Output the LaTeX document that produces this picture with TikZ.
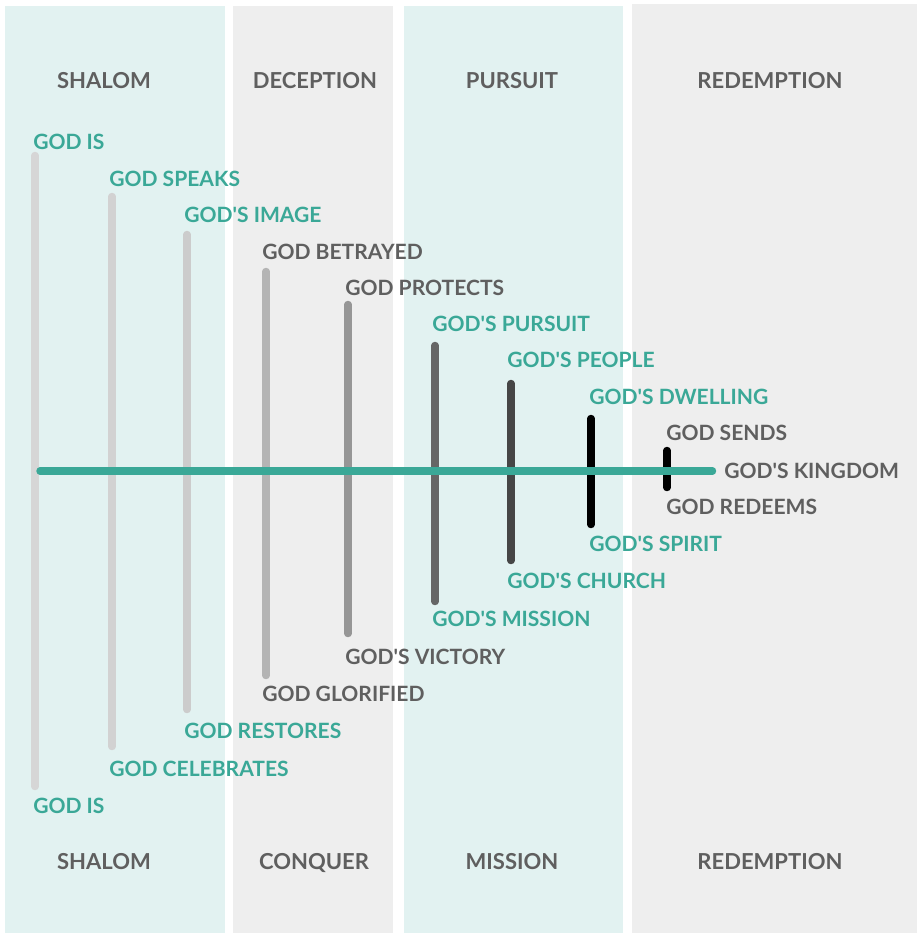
\documentclass[tikz,border=0pt]{standalone}
\usepackage{fontspec}
\setmainfont{Lato}
\usepackage{xcolor}

\definecolor{bgteal}{HTML}{E2F2F1}
\definecolor{bggray}{HTML}{EEEEEE}
\definecolor{storyteal}{HTML}{3AA897}
\definecolor{storygray}{HTML}{5F5F5F}
\newcommand{\apos}{\textquotesingle}

\tikzset{
  head/.style={inner sep=0pt, text height=11.5pt, text depth=0pt, text=storygray,
    font=\fontsize{16.5}{18}\selectfont\bfseries},
  lbl/.style={inner sep=0pt, text height=11pt, text depth=0pt, anchor=west,
    font=\fontsize{15.8}{18}\selectfont\bfseries},
  tl/.style={lbl, text=storyteal},
  gl/.style={lbl, text=storygray},
  bar/.style={line width=5.6pt, line cap=round},
}

\begin{document}
\begin{tikzpicture}[x=0.75pt,y=-0.75pt]
        \useasboundingbox (0,0) rectangle (917,933);
        % ages
        \fill[bgteal] (5,6) rectangle (225,933);
        \fill[bggray] (233,6) rectangle (393,933);
        \fill[bgteal] (404,6) rectangle (623,933);
        \fill[bggray] (632,4) rectangle (917,933);
        \node[head] (shalomtop) at (104,81) {SHALOM};
        \node[head] (deception) at (315,81) {DECEPTION};
        \node[head] (pursuit) at (512,81) {PURSUIT};
        \node[head] (redemptiontop) at (770,81) {REDEMPTION};
        \node[head] (shalombot) at (104,862) {SHALOM};
        \node[head] (conquer) at (314,862) {CONQUER};
        \node[head] (mission) at (512,862) {MISSION};
        \node[head] (redemptionbot) at (770,862) {REDEMPTION};

        % pairs, outermost first
        \coordinate (u1) at (35,155.5);   \coordinate (d1) at (35,786.5);
        \coordinate (u2) at (112,196.5);  \coordinate (d2) at (112,746.5);
        \coordinate (u3) at (187,234.5);  \coordinate (d3) at (187,709.5);
        \coordinate (u4) at (266,271.5);  \coordinate (d4) at (266,675.5);
        \coordinate (u5) at (348,304.5);  \coordinate (d5) at (348,633.5);
        \coordinate (u6) at (435,345.5);  \coordinate (d6) at (435,601.5);
        \coordinate (u7) at (511,383.5);  \coordinate (d7) at (511,560.5);
        \coordinate (u8) at (591,418.5);  \coordinate (d8) at (591,524.5);
        \coordinate (u9) at (667,450.5);  \coordinate (d9) at (667,487.5);
        \draw[bar, color={rgb,255:red,214;green,214;blue,214}] (u1) -- (d1);
        \draw[bar, color={rgb,255:red,210;green,210;blue,210}] (u2) -- (d2);
        \draw[bar, color={rgb,255:red,204;green,204;blue,204}] (u3) -- (d3);
        \draw[bar, color={rgb,255:red,180;green,180;blue,180}] (u4) -- (d4);
        \draw[bar, color={rgb,255:red,150;green,150;blue,150}] (u5) -- (d5);
        \draw[bar, color={rgb,255:red,102;green,102;blue,102}] (u6) -- (d6);
        \draw[bar, color={rgb,255:red,70;green,70;blue,70}] (u7) -- (d7);
        \draw[bar, black] (u8) -- (d8);
        \draw[bar, black] (u9) -- (d9);

        % the line of the story
        \node[gl] (kingdom) at (724,471) {GOD\apos S KINGDOM};
        \coordinate (origin) at (40,471);
        \coordinate (goal) at (712.5,471);
        \draw[bar, storyteal] (origin) -- (goal);

        \node[tl] (t1) at (33,142) {GOD IS};
        \node[tl] (t2) at (109,179) {GOD SPEAKS};
        \node[tl] (t3) at (184,215) {GOD\apos S IMAGE};
        \node[gl] (t4) at (262,252) {GOD BETRAYED};
        \node[gl] (t5) at (345,288) {GOD PROTECTS};
        \node[tl] (t6) at (432,324) {GOD\apos S PURSUIT};
        \node[tl] (t7) at (507,360) {GOD\apos S PEOPLE};
        \node[tl] (t8) at (589,397) {GOD\apos S DWELLING};
        \node[gl] (t9) at (666,433) {GOD SENDS};

        \node[tl] (b1) at (33,806) {GOD IS};
        \node[tl] (b2) at (109,769) {GOD CELEBRATES};
        \node[tl] (b3) at (184,731) {GOD RESTORES};
        \node[gl] (b4) at (262,694) {GOD GLORIFIED};
        \node[gl] (b5) at (345,657) {GOD\apos S VICTORY};
        \node[tl] (b6) at (432,619) {GOD\apos S MISSION};
        \node[tl] (b7) at (507,581) {GOD\apos S CHURCH};
        \node[tl] (b8) at (589,544) {GOD\apos S SPIRIT};
        \node[gl] (b9) at (666,507) {GOD REDEEMS};
      \end{tikzpicture}
\end{document}
